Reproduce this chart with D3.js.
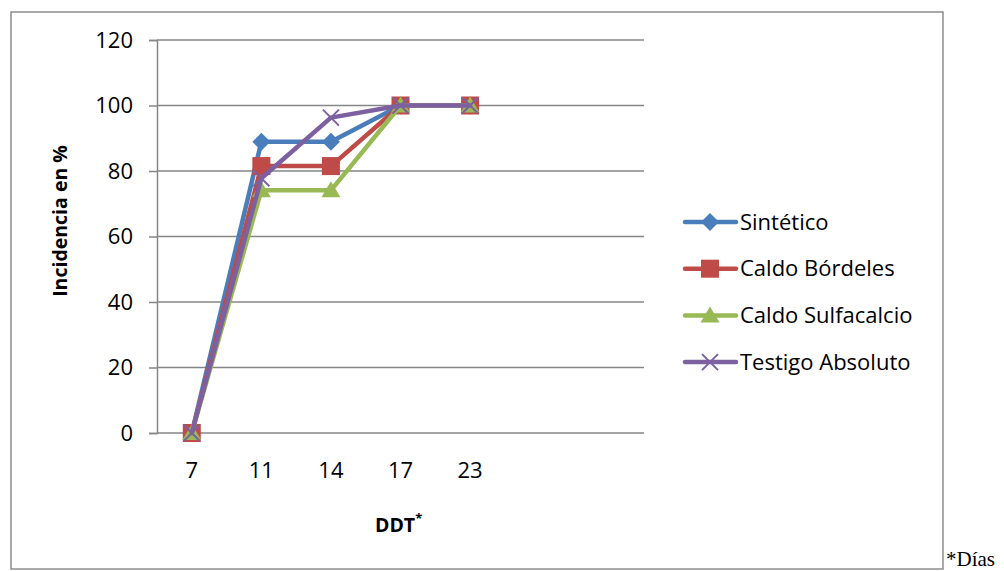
<!DOCTYPE html>
<html>
<head>
<meta charset="utf-8">
<script src="https://cdn.jsdelivr.net/npm/d3@7"></script>
<style>
  html, body { margin: 0; padding: 0; background: #fff; }
  svg { display: block; }
</style>
</head>
<body>
<svg id="chart" width="1004" height="571"></svg>
<script>
// Days after transplant (category axis), with two empty slots at the end
const categories = ["7", "11", "14", "17", "23", "", " "];
const seriesNames = ["Sintético", "Caldo Bórdeles", "Caldo Sulfacalcio", "Testigo Absoluto"];
const sintetico   = [0, 88.9, 88.9, 100, 100];
const bordeles    = [0, 81.5, 81.5, 100, 100];
const sulfacalcio = [0, 74.1, 74.1, 100, 100];
const testigo     = [0, 77.8, 96.3, 100, 100];
const yTicks = [0, 20, 40, 60, 80, 100, 120];
const colors = ["#4a7ebb", "#be4b48", "#98b954", "#7d60a0"];
const symbols = ["diamond", "square", "triangle", "cross"];

const series = [sintetico, bordeles, sulfacalcio, testigo].map((v, i) => ({
  name: seriesNames[i], values: v, color: colors[i], symbol: symbols[i]
}));

const svg = d3.select("#chart");
const font = "'Open Sans', 'Noto Sans', sans-serif";

// outer chart frame
svg.append("rect")
  .attr("x", 11).attr("y", 12).attr("width", 932).attr("height", 557)
  .attr("fill", "none").attr("stroke", "#8c8c8c").attr("stroke-width", 1.5);

const plot = { left: 157, right: 644, top: 40, bottom: 433 };

const x = d3.scaleBand().domain(categories).range([plot.left, plot.right]);
const y = d3.scaleLinear().domain([0, 120]).range([plot.bottom, plot.top]);

// horizontal gridlines
svg.append("g").selectAll("line").data(yTicks).join("line")
  .attr("x1", plot.left).attr("x2", plot.right)
  .attr("y1", d => y(d)).attr("y2", d => y(d))
  .attr("stroke", "#868686").attr("stroke-width", 1.5);

// y axis
const yAxis = svg.append("g")
  .attr("transform", `translate(${plot.left},0)`)
  .call(d3.axisLeft(y).tickValues(yTicks).tickSize(8).tickPadding(16));
yAxis.select(".domain").attr("stroke", "#868686").attr("stroke-width", 1.5);
yAxis.selectAll(".tick line").attr("stroke", "#868686").attr("stroke-width", 1.5);
yAxis.selectAll("text").attr("font-family", font).attr("font-size", 22).attr("fill", "#000");

// x axis labels (no tick marks)
const xAxis = svg.append("g")
  .attr("transform", `translate(0,${plot.bottom})`)
  .call(d3.axisBottom(x).tickSize(0).tickPadding(29));
xAxis.select(".domain").remove();
xAxis.selectAll("text").attr("font-family", font).attr("font-size", 22).attr("fill", "#000");

// axis titles
svg.append("text")
  .attr("transform", "translate(67,221) rotate(-90)")
  .attr("text-anchor", "middle")
  .attr("font-family", font).attr("font-size", 19.5).attr("font-weight", "bold")
  .text("Incidencia en %");

const xt = svg.append("text")
  .attr("x", 375).attr("y", 532)
  .attr("font-family", font).attr("font-size", 19.5).attr("font-weight", "bold");
xt.append("tspan").text("DDT");
xt.append("tspan").attr("dy", -9).attr("font-size", 13).text("*");

// footnote outside the frame
svg.append("text")
  .attr("x", 946).attr("y", 566)
  .attr("font-family", "'Liberation Serif', 'DejaVu Serif', serif").attr("font-size", 21)
  .text("*Días");

const cx = (i) => x(categories[i]) + x.bandwidth() / 2;

function drawMarker(g, kind, color, px, py) {
  if (kind === "diamond") {
    g.append("path")
      .attr("d", `M${px},${py - 9}L${px + 9},${py}L${px},${py + 9}L${px - 9},${py}Z`)
      .attr("fill", color);
  } else if (kind === "square") {
    g.append("rect").attr("x", px - 9).attr("y", py - 9)
      .attr("width", 18).attr("height", 18).attr("fill", color);
  } else if (kind === "triangle") {
    g.append("path")
      .attr("d", `M${px},${py - 9}L${px + 9.5},${py + 7}L${px - 9.5},${py + 7}Z`)
      .attr("fill", color);
  } else {
    g.append("path")
      .attr("d", `M${px - 8},${py - 8}L${px + 8},${py + 8}M${px + 8},${py - 8}L${px - 8},${py + 8}`)
      .attr("stroke", color).attr("stroke-width", 2).attr("fill", "none");
  }
}

const line = d3.line().x((d, i) => cx(i)).y(d => y(d));

series.forEach(s => {
  const g = svg.append("g");
  g.append("path")
    .attr("d", line(s.values))
    .attr("fill", "none").attr("stroke", s.color)
    .attr("stroke-width", 4.5).attr("stroke-linejoin", "round").attr("stroke-linecap", "round");
  s.values.forEach((v, i) => drawMarker(g, s.symbol, s.color, cx(i), y(v)));
});

// legend
const legend = svg.append("g");
series.forEach((s, i) => {
  const ly = 222 + i * 46.7;
  const g = legend.append("g");
  g.append("line").attr("x1", 685).attr("x2", 736).attr("y1", ly).attr("y2", ly)
    .attr("stroke", s.color).attr("stroke-width", 4.5).attr("stroke-linecap", "round");
  drawMarker(g, s.symbol, s.color, 710, ly);
  g.append("text").attr("x", 740).attr("y", ly).attr("dy", "0.35em")
    .attr("font-family", font).attr("font-size", 22).text(s.name);
});
</script>
</body>
</html>
